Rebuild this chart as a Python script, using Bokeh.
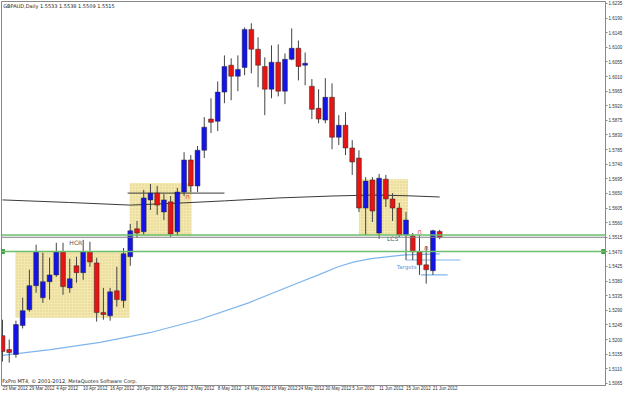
from bokeh.plotting import figure
from bokeh.models import Range1d, FixedTicker, Label, ColumnDataSource, Span
from bokeh.core.properties import value
from bokeh.embed import file_html
from bokeh.resources import INLINE

# ---- data (GBPAUD daily, 23 Mar - 22 Jun 2012) ----
opens = [1.5212, 1.5169, 1.5154, 1.5243, 1.5292, 1.5366, 1.5329, 1.5378, 1.5399, 1.5470,
         1.5359, 1.5427, 1.5406, 1.5470, 1.5436, 1.5283, 1.5273, 1.5350, 1.5320, 1.5455,
         1.5541, 1.5532, 1.5630, 1.5651, 1.5593, 1.5624, 1.5532, 1.5654, 1.5753, 1.5673,
         1.5783, 1.5879, 1.5872, 1.5962, 1.6045, 1.6011, 1.6038, 1.6155, 1.6094, 1.6041,
         1.5971, 1.6054, 1.5965, 1.6063, 1.6097, 1.6045, 1.5980, 1.5912, 1.5876, 1.5946,
         1.5823, 1.5860, 1.5790, 1.5759, 1.5605, 1.5691, 1.5528, 1.5694, 1.5633, 1.5605,
         1.5522, 1.5519, 1.5470, 1.5430, 1.5412, 1.5533]
highs = [1.5261, 1.5200, 1.5258, 1.5329, 1.5415, 1.5492, 1.5467, 1.5452, 1.5498, 1.5498,
         1.5449, 1.5455, 1.5507, 1.5501, 1.5452, 1.5359, 1.5359, 1.5424, 1.5482, 1.5556,
         1.5565, 1.5661, 1.5679, 1.5673, 1.5648, 1.5642, 1.5667, 1.5777, 1.5768, 1.5796,
         1.5885, 1.5943, 1.5995, 1.6075, 1.6066, 1.6075, 1.6161, 1.6174, 1.6131, 1.6069,
         1.6106, 1.6109, 1.6081, 1.6158, 1.6121, 1.6084, 1.6002, 1.5971, 1.6005, 1.5989,
         1.5891, 1.5900, 1.5814, 1.5783, 1.5700, 1.5700, 1.5710, 1.5707, 1.5651, 1.5621,
         1.5593, 1.5528, 1.5522, 1.5488, 1.5538, 1.5538]
lows = [1.5132, 1.5129, 1.5144, 1.5234, 1.5286, 1.5344, 1.5313, 1.5323, 1.5393, 1.5338,
        1.5344, 1.5375, 1.5384, 1.5424, 1.5255, 1.5261, 1.5258, 1.5301, 1.5298, 1.5427,
        1.5513, 1.5522, 1.5599, 1.5584, 1.5568, 1.5516, 1.5519, 1.5642, 1.5654, 1.5654,
        1.5759, 1.5836, 1.5842, 1.5928, 1.5937, 1.5965, 1.6014, 1.6020, 1.5977, 1.5891,
        1.5943, 1.5949, 1.5925, 1.6060, 1.5998, 1.5983, 1.5879, 1.5866, 1.5866, 1.5786,
        1.5799, 1.5768, 1.5707, 1.5593, 1.5522, 1.5562, 1.5510, 1.5608, 1.5565, 1.5516,
        1.5445, 1.5445, 1.5399, 1.5372, 1.5399, 1.5509]
closes = [1.5163, 1.5160, 1.5246, 1.5289, 1.5366, 1.5470, 1.5378, 1.5399, 1.5470, 1.5363,
          1.5387, 1.5406, 1.5470, 1.5439, 1.5283, 1.5277, 1.5347, 1.5323, 1.5464, 1.5535,
          1.5528, 1.5636, 1.5651, 1.5614, 1.5630, 1.5525, 1.5654, 1.5753, 1.5673, 1.5783,
          1.5854, 1.5869, 1.5962, 1.6041, 1.6011, 1.6032, 1.6155, 1.6094, 1.6045, 1.5971,
          1.6054, 1.5965, 1.6063, 1.6097, 1.6041, 1.6051, 1.5909, 1.5879, 1.5946, 1.5823,
          1.5860, 1.5790, 1.5747, 1.5605, 1.5688, 1.5596, 1.5697, 1.5633, 1.5605, 1.5522,
          1.5568, 1.5470, 1.5430, 1.5415, 1.5535, 1.5515]

date_tick_bars = [0, 4, 8, 12, 16, 20, 24, 28, 32, 36, 40, 44, 48, 52, 56, 60, 64]
date_tick_labels = ["23 Mar 2012", "29 Mar 2012", "4 Apr 2012", "10 Apr 2012", "16 Apr 2012",
                    "20 Apr 2012", "26 Apr 2012", "2 May 2012", "8 May 2012", "14 May 2012",
                    "18 May 2012", "24 May 2012", "30 May 2012", "5 Jun 2012", "11 Jun 2012",
                    "15 Jun 2012", "21 Jun 2012"]
price_ticks = [1.5065, 1.5110, 1.5155, 1.5200, 1.5245, 1.5290, 1.5335, 1.5380, 1.5425,
               1.5470, 1.5515, 1.5560, 1.5605, 1.5650, 1.5695, 1.5740, 1.5785, 1.5830,
               1.5875, 1.5920, 1.5965, 1.6010, 1.6055, 1.6100, 1.6145, 1.6190, 1.6235]

# moving averages read at a few bars
ma_slow_bars = [0, 10, 19, 26, 33, 41, 49, 55, 60, 65]
ma_slow_vals = [1.5630, 1.5622, 1.5614, 1.5620, 1.5627, 1.5636, 1.5642, 1.5645, 1.5643, 1.5639]
ma_fast_bars = [0, 7.1, 14.5, 21.9, 29.2, 36.6, 44.0, 47.0, 49.9, 52.3, 54.8, 59.8, 65]
ma_fast_vals = [1.5151, 1.5169, 1.5191, 1.5221, 1.5261, 1.5313, 1.5375, 1.5399, 1.5424,
                1.5439, 1.5449, 1.5461, 1.5464]

# zones (rectangles): left bar, right bar, top, bottom
zone_left = [1.9, 18.9, 53.0]
zone_right = [18.9, 28.1, 60.3]
zone_top = [1.5470, 1.5682, 1.5694]
zone_bottom = [1.5267, 1.5519, 1.5522]

level_upper = 1.5522
level_lower = 1.5471
bid_price = 1.5515
box2_line_price = 1.5651

target_y = [1.5445, 1.5399]
target_x0 = [60.0, 62.2]
target_x1 = [68.1, 66.2]

fractal_x = [27.5, 62.0, 63.0]
fractal_y = [1.5639, 1.5531, 1.5482]

Y0, Y1 = 1.50584, 1.62411
BAR_PX = 6.77
AXIS_FONT = "Liberation Sans"
LABEL_PX = 4.5

# ---- figure ----
p = figure(width=625, height=393, x_range=Range1d(-0.148, 89.66),
           y_range=Range1d(Y0, Y1), output_backend="svg",
           toolbar_location=None, y_axis_location="right",
           min_border_left=1, min_border_right=16, min_border_top=1, min_border_bottom=7,
           background_fill_color="white", border_fill_color="white")
p.grid.visible = False
p.outline_line_color = "#8a8a8a"

# bottom axis: date texts placed so each starts at its bar (MT4 style);
# approximate half-width of each label in Liberation Sans, converted to bars
char_em = {"0": .556, "1": .556, "2": .556, "3": .556, "4": .556, "5": .556, "6": .556,
           "7": .556, "8": .556, "9": .556, " ": .278, "M": .833, "a": .556, "r": .333,
           "A": .667, "p": .556, "y": .5, "J": .5, "u": .556, "n": .556}
shifted = []
for b, lab in zip(date_tick_bars, date_tick_labels):
    w = sum(char_em.get(ch, .556) for ch in lab) * LABEL_PX
    shifted.append(round(b + w / 2.0 / BAR_PX, 3))
xa = p.xaxis[0]
xa.ticker = FixedTicker(ticks=shifted)
xa.major_label_overrides = {s: l for s, l in zip(shifted, date_tick_labels)}
xa.major_label_text_font = AXIS_FONT
xa.major_label_text_font_size = "%spx" % LABEL_PX
xa.major_label_text_color = "#333333"
xa.major_label_standoff = 0
xa.major_tick_out = 0
xa.major_tick_in = 0
xa.major_tick_line_color = None
xa.minor_tick_line_color = None
xa.axis_line_color = "#8a8a8a"

ya = p.yaxis[0]
ya.ticker = FixedTicker(ticks=price_ticks)
ya.major_label_overrides = {t: "%.4f" % t for t in price_ticks}
ya.major_label_text_font_size = "%spx" % LABEL_PX
ya.major_label_text_font = AXIS_FONT
ya.major_label_text_color = "#333333"
ya.major_label_standoff = 1
ya.major_tick_out = 2
ya.major_tick_in = 0
ya.minor_tick_line_color = None
ya.axis_line_color = "#8a8a8a"
ya.major_tick_line_color = "#8a8a8a"

# zones
p.quad(left=zone_left, right=zone_right, top=zone_top, bottom=zone_bottom,
       fill_color="#F3E8AE", line_color=None,
       hatch_pattern=".", hatch_color="#DCC47A", hatch_scale=3, hatch_alpha=0.7)

# moving averages
p.line(ma_slow_bars, ma_slow_vals, line_color="#3a3a3a", line_width=1)
p.line(ma_fast_bars, ma_fast_vals, line_color="#7EB5EE", line_width=1.2)
p.line([18.6, 33.0], [box2_line_price, box2_line_price], line_color="#3a3a3a", line_width=1)

# target lines
p.segment(x0=target_x0, y0=target_y, x1=target_x1, y1=target_y, line_color="#7EB5EE", line_width=1.2)

# levels
p.add_layout(Span(location=level_upper, dimension="width", line_color="#6DBE6D", line_width=1.5))
p.add_layout(Span(location=bid_price, dimension="width", line_color="#808080", line_width=1))
p.add_layout(Span(location=level_lower, dimension="width", line_color="#6DBE6D", line_width=1.5))
p.scatter(x=[0.0, 89.4], y=[level_lower, level_lower], marker="square", size=4, color="#3E9E3E")

# candles
idx = list(range(len(opens)))
body_top = [max(o, c) for o, c in zip(opens, closes)]
body_bot = [min(o, c) for o, c in zip(opens, closes)]
colors = ["#1414E8" if c >= o else "#E81414" for o, c in zip(opens, closes)]
src = ColumnDataSource(dict(x=idx, h=highs, l=lows, t=body_top, b=body_bot, c=colors))
p.segment(x0="x", y0="l", x1="x", y1="h", source=src, line_color="#444444", line_width=1)
p.vbar(x="x", width=0.72, top="t", bottom="b", fill_color="c", line_color="#2a2a2a",
       line_width=0.5, source=src)

# annotations
p.text(x=[10.9], y=[1.5498], text=["HCR"], text_font=value("DejaVu Sans"),
       text_font_size="6px", text_color="#555555", text_align="center", text_baseline="middle")
p.text(x=[58.0], y=[1.5510], text=["LCS"], text_font=value("DejaVu Sans"),
       text_font_size="6px", text_color="#555555", text_align="center", text_baseline="middle")
p.text(x=[60.1], y=[1.5424], text=["Targets"], text_font=value("DejaVu Sans"),
       text_font_size="5.5px", text_color="#5A9BDD", text_align="center", text_baseline="middle")
p.text(x=fractal_x, y=fractal_y, text=["\u2229"] * len(fractal_x), text_font=value("DejaVu Sans"),
       text_font_size="7px", text_color="#E03030", text_align="center", text_baseline="middle")

p.add_layout(Label(x=0.1, y=1.6226, text="GBPAUD,Daily  1.5533 1.5538 1.5509 1.5515",
                   text_font="DejaVu Sans", text_font_size="5px", text_color="#222222",
                   text_baseline="middle"))
p.add_layout(Label(x=-0.05, y=1.5071, text="FxPro MT4, \u00a9 2001-2012, MetaQuotes Software Corp.",
                   text_font="DejaVu Sans", text_font_size="5px", text_color="#222222",
                   text_baseline="middle"))

open("out.html", "w").write(file_html(p, INLINE))
